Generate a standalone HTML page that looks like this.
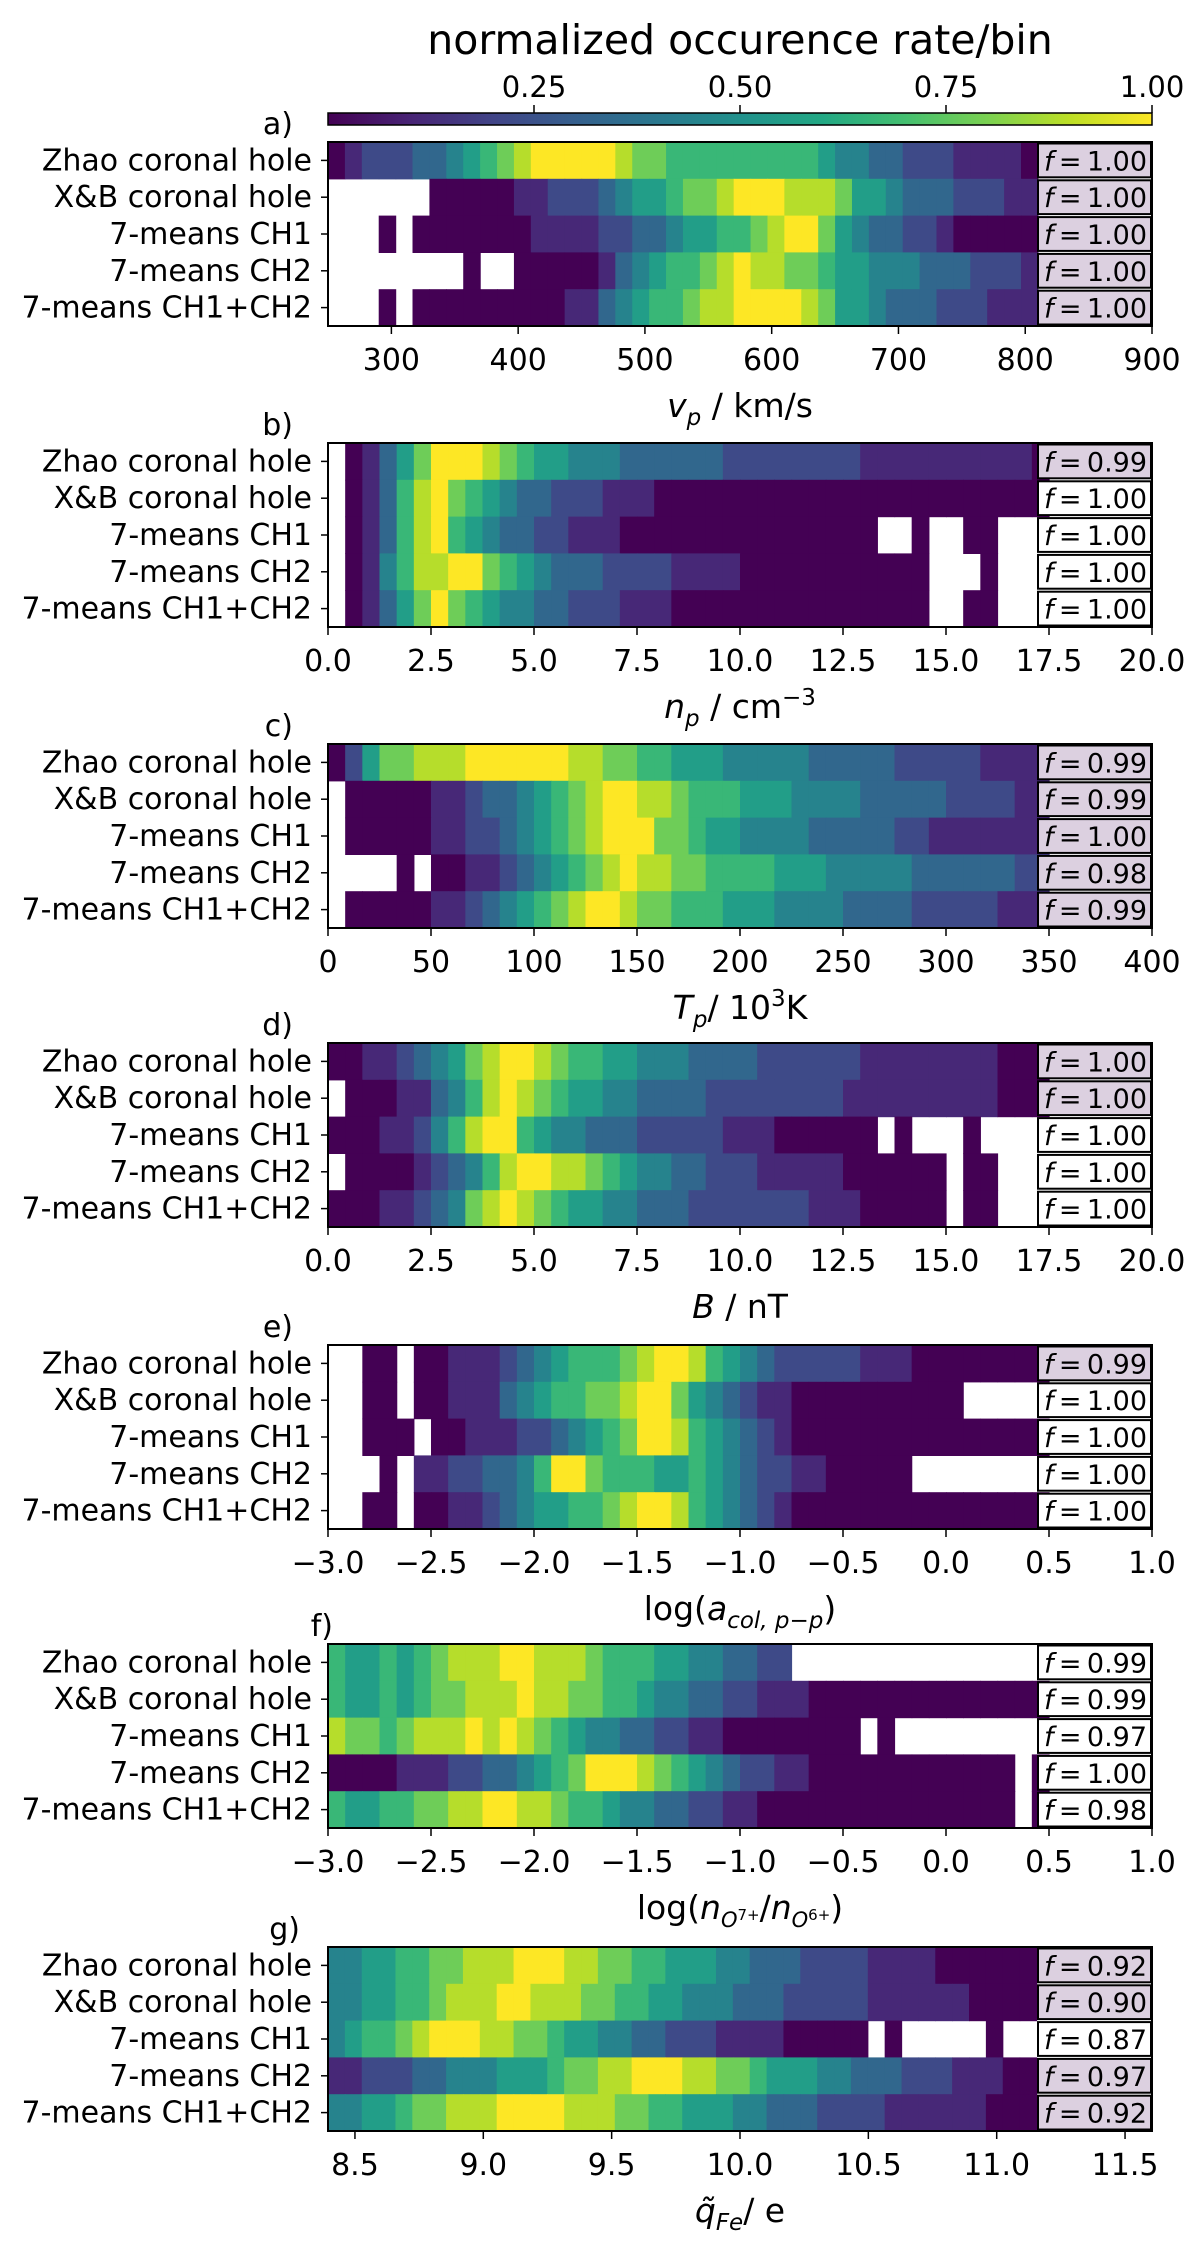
<!DOCTYPE html>
<html><head><meta charset="utf-8"><style>
html,body{margin:0;padding:0;background:#fff;}
svg{display:block;font-family:"DejaVu Sans","Liberation Sans",sans-serif;}
</style></head><body>
<svg id="fig" width="1200" height="2250" viewBox="0 0 1200 2250" xmlns="http://www.w3.org/2000/svg">
<defs><linearGradient id="vir" x1="0" x2="1" y1="0" y2="0">
<stop offset="0" stop-color="#440154"/><stop offset="0.1" stop-color="#482475"/><stop offset="0.2" stop-color="#414487"/><stop offset="0.3" stop-color="#355f8d"/><stop offset="0.4" stop-color="#2a788e"/><stop offset="0.5" stop-color="#21918c"/><stop offset="0.6" stop-color="#22a884"/><stop offset="0.7" stop-color="#44bf70"/><stop offset="0.8" stop-color="#7ad151"/><stop offset="0.9" stop-color="#bddf26"/><stop offset="1" stop-color="#fde725"/></linearGradient></defs>
<text x="740" y="54" font-size="41" text-anchor="middle">normalized occurence rate/bin</text>
<rect x="328" y="113" width="824" height="12" fill="url(#vir)" stroke="#000" stroke-width="1.5"/>
<g id="cbticks"></g>
<g id="panels"></g>
</svg>
<script>
// Row categories
const rowLabels = ["Zhao coronal hole","X&B coronal hole","7-means CH1","7-means CH2","7-means CH1+CH2"];
// Colorbar ticks
const cbTicks = [0.25,0.5,0.75,1.0];
const cbTickLabels = ["0.25","0.50","0.75","1.00"];
// Heatmap rows: each char = bin value on 0..9 scale (value/9), '.' = empty bin
const rowsA = [
"012223345678999998776666666665443322211110",
"......000001122234556778999888755433322211",
"...0.0000000111122334556678997543322100000",
"........0..000001345667898877655444333222 1".replace(" ",""),
"...0.0000000001134566788999987554333222111"];
const rowsB = [
".01357999876554443333332222222211111111110",
".01368976543322211100000000000000000000000",
".0136896543322111000000000000000..0..00...",
".0146889976543332222111100000000000...0...",
".0135797654433222111000000000000000..00..."];
const rowsC = [
"025778889999998877665554444433333222221111",
".00000112334567899887666555444433333222211",
".0000011223456789997765544443333322111111 1".replace(" ",""),
"....0.001123456789887766665554444433333322",
".00000112345678998776665554444333322222111"];
const rowsD = [
"001123457899876655444333322222211111111000",
".00011346898765544333322222222111111111000",
"00011246899654433322222111000000.0...0....",
".00001234689988765443322211111000000.00...",
"000112347898765544333222222211100000.00..."];
const rowsE = [
"..00.0011123456667899865432222211100000000",
"..00.00111345667789975432110000000000.....",
"..000.001112234567998654321000000000000000",
"...0.11223346997666556543221100000........",
"..00.0011234556678998654321000000000000000"];
const rowsF = [
"655656788899888766655443322...............",
"655656778889887766544332211100000000000000",
"8776788898987654433221100000000.0.........",
"0000111223345679998765432211000000000000.0",
"6556677889988766544332211000000000000000.0"];
const rowsG = [
"445566778889998877665554433322221111000000",
"445566788899888776655444333222221111110000",
"45667899988776554433222111100000.0.....0..",
"112223344455567788999887765554433322211100",
"445567788899998887766555443332222111111000"];
// Fraction values shown in boxes
const fA = ["1.00","1.00","1.00","1.00","1.00"];
const fB = ["0.99","1.00","1.00","1.00","1.00"];
const fC = ["0.99","0.99","1.00","0.98","0.99"];
const fD = ["1.00","1.00","1.00","1.00","1.00"];
const fE = ["0.99","1.00","1.00","1.00","1.00"];
const fF = ["0.99","0.99","0.97","1.00","0.98"];
const fG = ["0.92","0.90","0.87","0.97","0.92"];
// Axis domains, bin ranges and tick labels
const domA=[250,900], binA=[250,810], ticksA=[300,400,500,600,700,800,900], tickLabA=["300","400","500","600","700","800","900"];
const domB=[0,20], binB=[0,17.5], ticksB=[0,2.5,5,7.5,10,12.5,15,17.5,20], tickLabB=["0.0","2.5","5.0","7.5","10.0","12.5","15.0","17.5","20.0"];
const domC=[0,400], binC=[0,350], ticksC=[0,50,100,150,200,250,300,350,400], tickLabC=["0","50","100","150","200","250","300","350","400"];
const domD=[0,20], binD=[0,17.5], ticksD=ticksB, tickLabD=tickLabB;
const domE=[-3,1], binE=[-3,0.5], ticksE=[-3,-2.5,-2,-1.5,-1,-0.5,0,0.5,1], tickLabE=["\u22123.0","\u22122.5","\u22122.0","\u22121.5","\u22121.0","\u22120.5","0.0","0.5","1.0"];
const domF=domE, binF=binE, ticksF=ticksE, tickLabF=tickLabE;
const domG=[8.395,11.605], binG=[8.395,11.155], ticksG=[8.5,9,9.5,10,10.5,11,11.5], tickLabG=["8.5","9.0","9.5","10.0","10.5","11.0","11.5"];

const NS="http://www.w3.org/2000/svg";
const stops=[[68,1,84],[72,36,117],[65,68,135],[53,95,141],[42,120,142],[33,145,140],[34,168,132],[68,191,112],[122,209,81],[189,223,38],[253,231,37]];
function viridis(v){v=Math.max(0,Math.min(1,v));const p=v*10,i=Math.min(9,Math.floor(p)),t=p-i;const a=stops[i],b=stops[i+1];return "rgb("+a.map((c,k)=>Math.round(c+(b[k]-c)*t)).join(",")+")";}
function mk(tag,attrs,parent){const e=document.createElementNS(NS,tag);for(const k in attrs)e.setAttribute(k,attrs[k]);parent.appendChild(e);return e;}

const L=328,R=1152,W=R-L,PH=184,RH=PH/5;
const cbg=document.getElementById('cbticks');
cbTicks.forEach((t,i)=>{const x=L+t*W;
 const ln=mk('line',{x1:x,x2:x,y1:113,y2:105,stroke:'#000','stroke-width':1.5},cbg);
 
 
 const tx=mk('text',{x:x,y:97,'font-size':29,'text-anchor':'middle'},cbg);tx.textContent=cbTickLabels[i];
 
 
});

const panels=[
 {id:'a',top:142,rows:rowsA,f:fA,dom:domA,bin:binA,ticks:ticksA,lab:tickLabA,lav:[1,1,1,1,1],title:'<tspan font-style="italic">v</tspan><tspan font-style="italic" font-size="23" dy="8">p</tspan><tspan dy="-8"> / km/s</tspan>',lx:293},
 {id:'b',top:443,rows:rowsB,f:fB,dom:domB,bin:binB,ticks:ticksB,lab:tickLabB,lav:[1,0,0,0,0],title:'<tspan font-style="italic">n</tspan><tspan font-style="italic" font-size="23" dy="8">p</tspan><tspan dy="-8"> / cm</tspan><tspan font-size="23" dy="-13">\u22123</tspan>',lx:293},
 {id:'c',top:744,rows:rowsC,f:fC,dom:domC,bin:binC,ticks:ticksC,lab:tickLabC,lav:[1,1,1,1,1],title:'<tspan font-style="italic">T</tspan><tspan font-style="italic" font-size="23" dy="8">p</tspan><tspan dy="-8">/ 10</tspan><tspan font-size="23" dy="-13">3</tspan><tspan dy="13">K</tspan>',lx:293},
 {id:'d',top:1043,rows:rowsD,f:fD,dom:domD,bin:binD,ticks:ticksD,lab:tickLabD,lav:[1,1,0,0,0],title:'<tspan font-style="italic">B</tspan><tspan> / nT</tspan>',lx:293},
 {id:'e',top:1345,rows:rowsE,f:fE,dom:domE,bin:binE,ticks:ticksE,lab:tickLabE,lav:[1,0,0,0,0],title:'<tspan>log(</tspan><tspan font-style="italic">a</tspan><tspan font-style="italic" font-size="23" dy="8">col, p\u2212p</tspan><tspan dy="-8">)</tspan>',lx:293},
 {id:'f',top:1644,rows:rowsF,f:fF,dom:domF,bin:binF,ticks:ticksF,lab:tickLabF,lav:[0,0,0,0,0],title:'<tspan>log(</tspan><tspan font-style="italic">n</tspan><tspan font-style="italic" font-size="21" dy="8">O</tspan><tspan font-size="15" dy="-7">7+</tspan><tspan dy="-1">/</tspan><tspan font-style="italic">n</tspan><tspan font-style="italic" font-size="21" dy="8">O</tspan><tspan font-size="15" dy="-7">6+</tspan><tspan dy="-1">)</tspan>',lx:333},
 {id:'g',top:1947,rows:rowsG,f:fG,dom:domG,bin:binG,ticks:ticksG,lab:tickLabG,lav:[1,1,0,1,1],title:'<tspan font-style="italic">q\u0303</tspan><tspan font-style="italic" font-size="23" dy="8">Fe</tspan><tspan dy="-8">/ e</tspan>',lx:300}
];
const root=document.getElementById('panels');
panels.forEach(p=>{
 const g=mk('g',{},root);
 
 
 const top=p.top,bot=top+PH;
 const xs=v=>L+(v-p.dom[0])/(p.dom[1]-p.dom[0])*W;
 const pl=mk('text',{x:p.lx,y:top-8,'font-size':30,'text-anchor':'end'},g);pl.textContent=p.id+')';
 
 
 p.rows.forEach((s,r)=>{
  const n=s.length,bw=(p.bin[1]-p.bin[0])/n;
  for(let i=0;i<n;i++){const c=s[i];if(c==='.')continue;
   const x0=xs(p.bin[0]+i*bw),x1=xs(p.bin[0]+(i+1)*bw);
   const cell=mk('rect',{x:x0.toFixed(2),y:(top+r*RH).toFixed(2),width:(x1-x0+0.6).toFixed(2),height:(RH+0.6).toFixed(2),fill:viridis(+c/9)},g);
   
   
  }
  const yl=mk('text',{x:312,y:top+r*RH+RH/2+10,'font-size':30,'text-anchor':'end'},g);yl.textContent=rowLabels[r];
  
  
  const tk=mk('line',{x1:L,x2:L-7,y1:top+r*RH+RH/2,y2:top+r*RH+RH/2,stroke:'#000','stroke-width':1.5},g);
  
  
  const bx=mk('rect',{x:1038,y:top+r*RH+1.5,width:113,height:RH-3,fill:p.lav[r]?'#dcd0e0':'#fff',stroke:'#000','stroke-width':2},g);
  
  
  const ft=mk('text',{x:1044,y:top+r*RH+RH/2+10,'font-size':27},g);
  ft.innerHTML='<tspan font-style="italic">f</tspan>\u2009=\u20091'.slice(0,0)+'<tspan font-style="italic">f</tspan>\u2009=\u2009'+p.f[r];
  
  
 });
 const fr=mk('rect',{x:L,y:top,width:W,height:PH,fill:'none',stroke:'#000','stroke-width':2},g);
 
 
 p.ticks.forEach((t,i)=>{const x=xs(t);
  const tl=mk('line',{x1:x,x2:x,y1:bot,y2:bot+8,stroke:'#000','stroke-width':1.5},g);
  
  
  const tt=mk('text',{x:x,y:bot+44,'font-size':30,'text-anchor':'middle'},g);tt.textContent=p.lab[i];
  
  
 });
 const at=mk('text',{x:740,y:bot+91,'font-size':33,'text-anchor':'middle'},g);at.innerHTML=p.title;
 
 
});
</script>
</body></html>
